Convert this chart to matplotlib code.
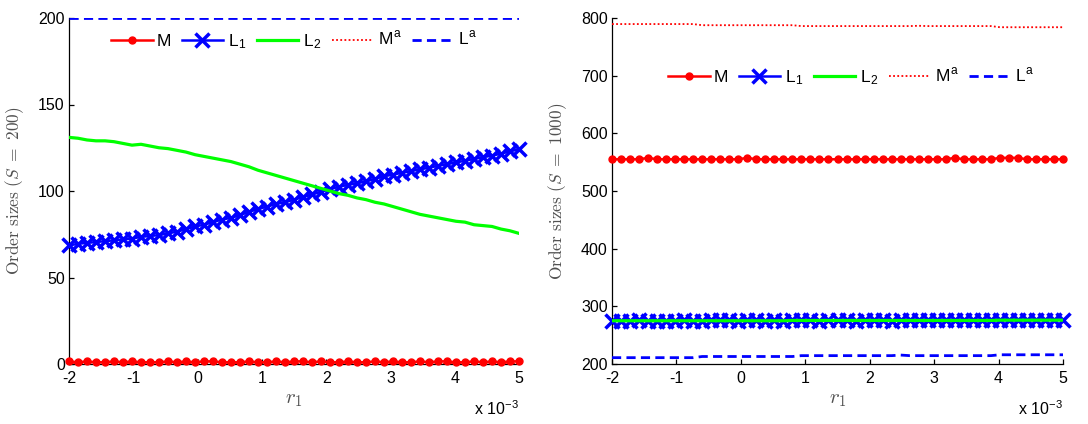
import numpy as np
import matplotlib
matplotlib.use('Agg')
import matplotlib.pyplot as plt

plt.rcParams['font.family'] = ['Liberation Sans', 'DejaVu Sans']
plt.rcParams['mathtext.fontset'] = 'cm'

# ---------------- data ----------------
r1 = np.linspace(-2e-3, 5e-3, 51)
xtick_vals = [-2, -1, 0, 1, 2, 3, 4, 5]
labels = ['M', r'L$_{\mathregular{1}}$', r'L$_{\mathregular{2}}$',
          r'M$^{\mathregular{a}}$', r'L$^{\mathregular{a}}$']

# left panel, S = 200
M_200 = [1.5, 1.0, 1.5, 1.0, 1.0, 1.5, 1.0, 1.5, 1.0, 1.0,
         1.0, 1.5, 1.0, 1.5, 1.0, 1.5, 1.5, 1.0, 1.0, 1.0,
         1.5, 1.0, 1.0, 1.5, 1.0, 1.5, 1.5, 1.0, 1.5, 1.0,
         1.0, 1.5, 1.0, 1.0, 1.5, 1.0, 1.5, 1.0, 1.0, 1.5,
         1.0, 1.5, 1.5, 1.0, 1.0, 1.5, 1.0, 1.5, 1.0, 1.5, 1.5]
L1_200 = [68.5, 69.5, 70, 70.5, 71, 71.5, 72, 72.5, 73.5, 74,
          74.5, 75.5, 76.5, 78, 79.5, 80.5, 82, 83.5, 84.5, 86,
          88, 89.5, 91, 92.5, 93.5, 95, 96.5, 98, 99.5, 101,
          102.5, 103.5, 104.5, 105.5, 107, 108.5, 109.5, 110.5, 111.5, 112.5,
          113.5, 114.5, 115.5, 116.5, 117.5, 118.5, 119.5, 120.5, 121.5, 123, 124]
L2_200 = [131, 130.5, 129.5, 129, 129, 128.5, 127.5, 126.5, 127, 126,
          125, 124.5, 123.5, 122.5, 121, 120, 119, 118, 117, 115.5,
          114, 112, 110.5, 109, 107.5, 106, 104.5, 103, 101.5, 100,
          98.5, 97.5, 96, 95, 93.5, 92.5, 91, 89.5, 88, 86.5,
          85.5, 84.5, 83.5, 82.5, 82, 80.5, 80, 79.5, 78, 77, 75.5]
Ma_200 = [0, 0, 0, 0, 0, 0, 0, 0, 0, 0,
          0, 0, 0, 0, 0, 0, 0, 0, 0, 0,
          0, 0, 0, 0, 0, 0, 0, 0, 0, 0,
          0, 0, 0, 0, 0, 0, 0, 0, 0, 0,
          0, 0, 0, 0, 0, 0, 0, 0, 0, 0, 0]
La_200 = [200, 200, 200, 200, 200, 200, 200, 200, 200, 200,
          200, 200, 200, 200, 200, 200, 200, 200, 200, 200,
          200, 200, 200, 200, 200, 200, 200, 200, 200, 200,
          200, 200, 200, 200, 200, 200, 200, 200, 200, 200,
          200, 200, 200, 200, 200, 200, 200, 200, 200, 200, 200]

# right panel, S = 1000
M_1000 = [555, 555, 555, 555, 557.5, 555, 555, 555, 555, 555,
          555, 555, 555, 555, 555, 557.5, 555, 555, 555, 555,
          555, 555, 555, 555, 555, 555, 555, 555, 555, 555,
          555, 555, 555, 555, 555, 555, 555, 555, 557.5, 555,
          555, 555, 555, 557.5, 557.5, 557.5, 555, 555, 555, 555, 555]
L1_1000 = [275, 274.5, 275, 275.5, 275, 274.5, 275, 275, 275.5, 275,
           275, 275.5, 276, 275.5, 275, 276, 275.5, 275, 275.5, 275,
           275.5, 276, 275.5, 275, 276, 275.5, 275.5, 275, 275.5, 276,
           275.5, 275, 275.5, 276, 275.5, 275.5, 276, 275.5, 276, 275.5,
           276, 275.5, 276, 276.5, 276, 275.5, 276, 276.5, 277, 276.5, 277]
L2_1000 = [275, 275, 275, 275, 275, 275, 275, 275, 275, 275,
           275, 275, 275, 275, 275, 275, 275, 275, 275, 275,
           275.5, 275.5, 275.5, 275.5, 275.5, 275.5, 275.5, 275.5, 275.5, 275.5,
           275.5, 275.5, 275.5, 275.5, 275.5, 275.5, 275.5, 275.5, 275.5, 275.5,
           275.5, 275.5, 275.5, 276, 276, 276, 276, 276, 276, 276, 276]
Ma_1000 = [789.5, 789.5, 789.5, 789.5, 789.5, 789.5, 789.5, 789.5, 789.5, 789.5,
           787.5, 787.5, 787.5, 787.5, 787.5, 787.5, 787.5, 787.5, 787.5, 787.5,
           787.5, 786, 786, 786, 786, 786, 786, 786, 786, 786,
           786, 786, 786, 786, 786.5, 786, 786, 786, 786, 786,
           786, 786, 786, 784, 784, 784, 784, 784, 784, 784, 784]
La_1000 = [211, 211, 211, 211, 211, 211, 211, 211, 211, 211,
           213, 213, 213, 213, 213, 213, 213, 213, 213, 213,
           213, 214.5, 214.5, 214.5, 214.5, 214.5, 214.5, 214.5, 214.5, 214.5,
           214.5, 214.5, 215.5, 214.5, 214.5, 214.5, 214.5, 214.5, 214.5, 214.5,
           214.5, 214.5, 214.5, 216, 216, 216, 216, 216, 216, 216, 216]

# ---------------- figure ----------------
fig = plt.figure(figsize=(10.88, 4.24), dpi=100)
bottom = 1 - 364 / 424
height = 346 / 424
axL = fig.add_axes([69 / 1088, bottom, 450 / 1088, height])
axR = fig.add_axes([612 / 1088, bottom, 451 / 1088, height])


def draw(ax, M, L1, L2, Ma, La, ylim, yticks, ylabel, leg_pos, width_px):
    ax.plot(r1, M, color='#ff0000', lw=1.8, marker='o', ms=5.0,
            label=labels[0], clip_on=False, zorder=3)
    ax.plot(r1, L1, color='#0000ff', lw=1.8, marker='x', ms=9.5, mew=2.5,
            label=labels[1], clip_on=False, zorder=4)
    ax.plot(r1, L2, color='#00ff00', lw=2.3, label=labels[2], zorder=5)
    ax.plot(r1, Ma, color='#ff0000', lw=1.3, ls=(0, (1, 1.3)),
            label=labels[3], zorder=6)
    ax.plot(r1, La, color='#0000ff', lw=2.0, ls=(0, (3.3, 1.9)),
            label=labels[4], zorder=7)
    ax.set_xlim(-2e-3, 5e-3)
    ax.set_ylim(*ylim)
    ax.set_xticks([v * 1e-3 for v in xtick_vals])
    ax.set_xticklabels([str(v) for v in xtick_vals])
    ax.set_yticks(yticks)
    ax.set_yticklabels([str(v) for v in yticks])
    for s in ['top', 'right']:
        ax.spines[s].set_visible(False)
    for s in ['left', 'bottom']:
        ax.spines[s].set_linewidth(0.9)
    ax.tick_params(direction='in', length=3.5, width=0.9, labelsize=11.5)
    ax.tick_params(axis='x', pad=5)
    ax.tick_params(axis='y', pad=3)
    ax.set_ylabel(ylabel, fontsize=12.5, color='#505050', va='center')
    ax.yaxis.set_label_coords(-54 / width_px, 0.5)
    ax.set_xlabel(r'$r_1$', fontsize=15, color='#505050')
    ax.xaxis.set_label_coords(0.5, -0.075)
    ax.text(1.0, -0.13, r'x 10$^{\mathregular{-3}}$', transform=ax.transAxes,
            ha='right', va='center', fontsize=11.5)
    ax.legend(loc='center', bbox_to_anchor=leg_pos, ncol=5, frameon=False,
              handlelength=2.4, handletextpad=0.25, columnspacing=0.6,
              fontsize=12.5, borderaxespad=0, numpoints=1)


draw(axL, M_200, L1_200, L2_200, Ma_200, La_200, (0, 200),
     [0, 50, 100, 150, 200], r'$\mathrm{Order\ sizes\ }(S\ =\ 200)$',
     (0.5, 0.935), 450)
draw(axR, M_1000, L1_1000, L2_1000, Ma_1000, La_1000, (200, 800),
     [200, 300, 400, 500, 600, 700, 800], r'$\mathrm{Order\ sizes\ }(S\ =\ 1000)$',
     (0.53, 0.83), 451)

fig.savefig('out.png', dpi=100)
